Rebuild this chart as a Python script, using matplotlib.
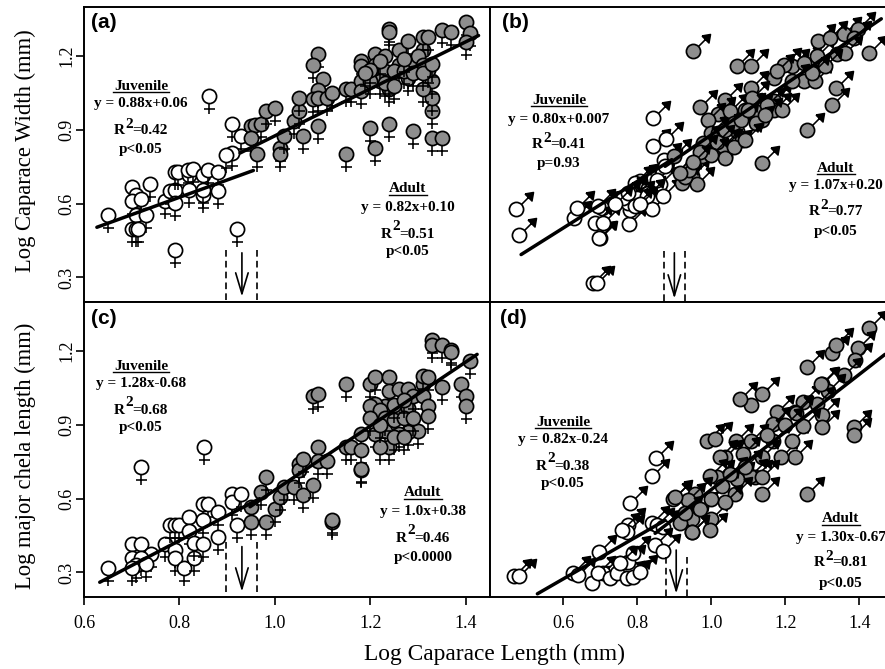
import matplotlib
matplotlib.use("Agg")
import matplotlib.pyplot as plt
from matplotlib.lines import Line2D
from matplotlib.path import Path

plt.rcParams['font.family'] = ['Liberation Serif', 'DejaVu Serif']

W, H = 885, 669
GREY = '#8e8e8e'

# panel a, females, log width
a_juv_x = [.65, .70, .738, .71, .70, .72, .708, .73, .70, .708, .713, .79, .77, .78, .79, .79, .797, .82, .818, .829,
           .85, .86, .881, .881, .85, .79, .82, .85, .862, .91, .93, .91, .897, .92]
a_juv_y = [.555, .668, .678, .637, .612, .617, .555, .555, .495, .495, .497, .413, .612, .65, .657, .728, .728, .716,
           .736, .739, .716, .736, .728, .653, .637, .603, .657, .657, 1.037, .925, .877, .806, .80, .495]
a_ad_x = [.951, .958, .97, .981, 1.00, .951, .962, 1.01, 1.01, 1.02, 1.04, 1.05, 1.05, 1.06, 1.09, 1.08, 1.10, 1.09,
          1.08, 1.09, 1.11, 1.12, 1.09, 1.15, 1.16, 1.18, 1.18, 1.18, 1.18, 1.21, 1.21, 1.23, 1.23, 1.24, 1.24, 1.24,
          1.20, 1.24, 1.21, 1.15, 1.29, 1.33, 1.35, 1.33, 1.33, 1.33, 1.31, 1.26, 1.28, 1.31, 1.31, 1.32, 1.35, 1.37,
          1.40, 1.41, 1.40, 1.28, 1.285, 1.32, 1.30, 1.31, 1.28, 1.26, 1.24, 1.22, 1.20, 1.22, 1.25, 1.27, 1.29, 1.31,
          1.23, 1.25, 1.27, 1.20, 1.19, 1.33]
a_ad_y = [.915, .922, .926, .976, .99, .868, .804, .827, .804, .877, .935, .976, 1.028, .877, 1.207, 1.166, 1.108,
          1.064, 1.024, 1.028, 1.03, 1.05, .915, 1.067, 1.067, 1.18, 1.16, 1.10, 1.057, 1.207, 1.166, 1.20, 1.14,
          1.31, 1.30, 1.067, .908, .926, .827, .804, .897, .868, .868, .976, 1.028, 1.098, 1.067, 1.227, 1.26, 1.227,
          1.28, 1.28, 1.306, 1.298, 1.338, 1.295, 1.257, 1.14, 1.17, 1.145, 1.20, 1.166, 1.11, 1.166, 1.10, 1.10, 1.10,
          1.18, 1.14, 1.14, 1.13, 1.13, 1.09, 1.08, 1.19, 1.145, 1.13, 1.17]

# panel b, males, log width
b_juv_x = [.471, .481, .681, .69, .70, .697, .629, .638, .704, .686, .708, .778, .839, .78, .776, .80, .807, .794,
           .83, .861, .852, .843, .841, .877, .871, .875, .695, .76, .78, .80, .868, .825, .794, .776, .808, .74]
b_juv_y = [.58, .474, .277, .277, .46, .462, .542, .583, .583, .522, .522, .519, .579, .576, .603, .59, .691, .684,
           .644, .678, .698, .949, .834, .864, .779, .752, .59, .625, .645, .625, .63, .63, .589, .644, .60, .60]
b_ad_x = [.951, 1.069, 1.106, 1.427, 1.336, 1.327, 1.258, 1.136, .969, 1.037, 1.106, 1.019, .992, 1.0, 1.068, 1.037,
          1.037, 1.136, 1.168, 1.168, 1.19, 1.168, 1.217, 1.195, 1.249, 1.28, 1.249, 1.289, 1.285, 1.339, 1.357, 1.395,
          1.321, 1.118, 1.082, .992, .947, .947, .96, .92, .93, .94, .915, .975, 1.019, 1.05, 1.09, 1.109,
          1.384, 1.361, 1.307, 1.177, 1.217, 1.271, 1.032, 1.037, .90, .978, 1.037, 1.06, 1.08, 1.10, 1.15, 1.015,
          1.00, .97, .95, 1.06, 1.12, 1.145, 1.09]
b_ad_y = [1.22, 1.162, 1.162, 1.213, 1.071, 1.0, .90, .766, .994, 1.023, 1.071, .963, .942, .888, .895, .834, .793,
          .942, 1.019, .979, .979, 1.111, 1.162, 1.166, 1.098, 1.098, 1.173, 1.26, 1.2, 1.209, 1.29, 1.312, 1.274,
          .976, .861, .834, .752, .712, .678, .684, .71, .738, .724, .793, .888, .976, .98, 1.03,
          1.274, 1.213, 1.159, 1.139, 1.098, 1.132, .834, .786, .793, .847, .90, .93, .94, .98, 1.0, .85,
          .80, .81, .77, .83, .93, .96, .86]

# panel c, females, log chela
c_juv_x = [.65, .72, .851, .70, .72, .74, .70, .72, .71, .73, .70, .77, .78, .79, .80, .79, .79, .81, .83, .82, .82,
           .83, .85, .85, .86, .88, .88, .85, .91, .91, .93, .92]
c_juv_y = [.317, .728, .809, .414, .414, .375, .358, .358, .33, .335, .317, .414, .492, .492, .492, .391, .358, .317,
           .358, .526, .47, .418, .414, .58, .58, .546, .445, .513, .62, .587, .62, .492]
c_ad_x = [.951, .951, .97, .981, .981, 1.0, 1.01, 1.02, 1.04, 1.06, 1.05, 1.05, 1.06, 1.08, 1.09, 1.09, 1.11, 1.08,
          1.09, 1.12, 1.12, 1.15, 1.15, 1.16, 1.18, 1.18, 1.18, 1.18, 1.20, 1.21, 1.24, 1.24, 1.26, 1.28, 1.23, 1.21,
          1.20, 1.26, 1.28, 1.29, 1.31, 1.31, 1.32, 1.31, 1.32, 1.32, 1.30, 1.28, 1.26, 1.23, 1.24, 1.21, 1.22, 1.35,
          1.39, 1.40, 1.40, 1.41, 1.33, 1.33, 1.35, 1.37, 1.37, 1.22, 1.23, 1.25, 1.27, 1.29, 1.25, 1.27, 1.20, 1.22,
          1.25, 1.27]
c_ad_y = [.567, .506, .627, .688, .506, .556, .607, .647, .647, .614, .742, .715, .762, .657, .809, .755, .755, 1.018,
          1.025, .506, .512, 1.068, .809, .809, .863, .798, .715, .722, 1.065, 1.095, 1.095, 1.038, 1.045, 1.045, .978,
          .984, .978, .968, .968, 1.018, 1.065, 1.10, 1.095, 1.018, .978, .937, .876, .87, .863, .876, .809, .863,
          .809, 1.054, 1.068, 1.018, .978, 1.16, 1.247, 1.227, 1.227, 1.203, 1.198, .96, .93, .92, .93, .93, .98, 1.0,
          .93, .90, .85, .85]

# panel d, males, log chela
d_juv_x = [.468, .481, .85, .839, .78, .697, .627, .64, .677, .708, .695, .726, .744, .771, .789, .807, .776, .789,
           .753, .776, .771, .758, .839, .854, .87, .848, .87]
d_juv_y = [.284, .284, .766, .692, .582, .384, .296, .289, .258, .296, .296, .276, .296, .276, .283, .303, .343, .377,
           .337, .492, .465, .472, .499, .492, .485, .411, .388]
d_ad_x = [1.258, 1.325, 1.336, 1.427, 1.397, 1.388, 1.357, 1.298, 1.316, 1.247, 1.176, 1.226, 1.285, 1.298, 1.298,
          1.167, 1.106, 1.077, 1.136, .987, 1.01, 1.106, 1.066, 1.386, 1.386, 1.257, 1.136, 1.226, 1.187, 1.217, 1.167,
          1.136, 1.037, 1.023, 1.016, .996, 1.118, 1.104, 1.068, 1.136, 1.064, .956, .938, .897, .902, .947, .999,
          .996, .947, .915, 1.086, 1.228, 1.248, 1.296, 1.037, .947, .93, .97, 1.0, 1.03, 1.05, 1.09, 1.15, 1.2]
d_ad_y = [1.135, 1.193, 1.227, 1.294, 1.213, 1.166, 1.105, 1.065, 1.038, .993, .954, .951, .984, .94, .89, .903, .981,
          1.004, 1.025, .833, .842, .833, .836, .893, .86, .62, .62, .771, .771, .833, .833, .771, .771, .771, .69, .694,
          .69, .694, .68, .69, .62, .62, .593, .60, .606, .519, .519, .472, .465, .499, .782, .95, .896, 1.065, .586,
          .465, .54, .56, .60, .65, .70, .73, .86, .90]

# regression lines as end points, juvenile then adult
a_lines = [([.627, .955], [.504, .735]), ([.927, 1.427], [.806, 1.284])]
b_lines = [([.486, .893], [.393, .779]), ([.875, 1.459], [.752, 1.352])]
c_lines = [([.633, .968], [.26, .60]), ([.948, 1.424], [.567, 1.187])]
d_lines = [([.53, .875], [.213, .512]), ([.848, 1.469], [.459, 1.187])]

juvenile_text = [['y = 0.88x+0.06', '=0.42', 'p<0.05'], ['y = 0.80x+0.007', '=0.41', 'p=0.93'],
                 ['y = 1.28x-0.68', '=0.68', 'p<0.05'], ['y = 0.82x-0.24', '=0.38', 'p<0.05']]
adult_text = [['y = 0.82x+0.10', '=0.51', 'p<0.05'], ['y = 1.07x+0.20', '=0.77', 'p<0.05'],
              ['y = 1.0x+0.38', '=0.46', 'p<0.0000'], ['y = 1.30x-0.67', '=0.81', 'p<0.05']]

M, L = Path.MOVETO, Path.LINETO
venus = Path([(0, -7), (0, -18), (-5.5, -12.5), (5.5, -12.5)], [M, L, M, L])
mars = Path([(5, 5), (12, 12), (8.5, 15.5), (17, 17), (15.5, 8.5), (8.5, 15.5)], [M, L, M, L, L, L])


def draw_points(ax, xs, ys, face, stem):
    ms = 2 * abs(stem.vertices).max() * 0.72
    for x, y in zip(xs, ys):
        ax.plot([x], [y], marker=stem, ms=ms, mfc='k', mec='k', mew=1.15, ls='none')
        ax.plot([x], [y], marker='o', ms=10.2, mfc=face, mec='k', mew=1.25, ls='none')


def px_ax(fig, left, top, right, bottom):
    return fig.add_axes([left / W, 1 - bottom / H, (right - left) / W, (bottom - top) / H])


def stat_block(fig, x, ys, title, lines):
    kw = dict(va='center', fontsize=11, fontweight='bold')
    t_y, eq_y, r_y, p_y = ys
    fig.text(x / W, 1 - t_y / H, title, ha='center', **kw)
    half = 28 if title == 'Juvenile' else 19
    fig.add_artist(Line2D([(x - half) / W, (x + half) / W], [1 - (t_y + 6) / H] * 2, color='k', lw=1.0))
    fig.text(x / W, 1 - eq_y / H, lines[0], ha='center', **kw)
    # R and the big superscript are set by hand
    left = x - 27
    fig.text(left / W, 1 - r_y / H, 'R', ha='left', **kw)
    fig.text((left + 11) / W, 1 - (r_y - 7) / H, '2', ha='left', **kw)
    fig.text((left + 18.5) / W, 1 - r_y / H, lines[1], ha='left', **kw)
    fig.text(x / W, 1 - p_y / H, lines[2], ha='center', **kw)


def arrow_mark(ax, x0, x1, xm, top, tip, arrow_top):
    ax.plot([x0, x0], [top, 0.2], color='k', lw=1.2, ls=(0, (4, 2.5)))
    ax.plot([x1, x1], [top, 0.2], color='k', lw=1.2, ls=(0, (4, 2.5)))
    ax.annotate('', xy=(xm, tip), xytext=(xm, arrow_top),
                arrowprops=dict(arrowstyle='->,head_length=1.5,head_width=0.45', color='k', lw=1.2,
                                shrinkA=0, shrinkB=0))


fig = plt.figure(figsize=(W / 100, H / 100), dpi=100)

ax_a = px_ax(fig, 84, 7, 490, 302)
ax_b = px_ax(fig, 490, 7, 885, 302)
ax_c = px_ax(fig, 84, 302, 490, 597)
ax_d = px_ax(fig, 490, 302, 885, 597)

panels = [
    (ax_a, a_juv_x, a_juv_y, a_ad_x, a_ad_y, venus, a_lines),
    (ax_b, b_juv_x, b_juv_y, b_ad_x, b_ad_y, mars, b_lines),
    (ax_c, c_juv_x, c_juv_y, c_ad_x, c_ad_y, venus, c_lines),
    (ax_d, d_juv_x, d_juv_y, d_ad_x, d_ad_y, mars, d_lines),
]
for ax, jx, jy, ax_x, ax_y, stem, lines in panels:
    draw_points(ax, jx, jy, 'white', stem)
    draw_points(ax, ax_x, ax_y, GREY, stem)
    for lx, ly in lines:
        ax.plot(lx, ly, color='k', lw=2.5, solid_capstyle='round', zorder=5)
    ax.set_ylim(0.2, 1.4)
    for s in ax.spines.values():
        s.set_linewidth(1.4)
    ax.set_yticks([0.3, 0.6, 0.9, 1.2])
    ax.set_xticks([0.6, 0.8, 1.0, 1.2, 1.4])
    ax.tick_params(length=6, width=1.2, labelsize=13)
    ax.tick_params(axis='x', pad=7)
    ax.tick_params(axis='y', pad=0)

ax_a.set_xlim(0.6, 1.451)
ax_c.set_xlim(0.6, 1.451)
ax_b.set_xlim(0.402, 1.469)
ax_d.set_xlim(0.402, 1.469)

for ax in [ax_a, ax_b]:
    ax.tick_params(axis='x', bottom=False, labelbottom=False)
for ax in [ax_b, ax_d]:
    ax.tick_params(axis='y', left=False, labelleft=False)
    ax.spines['right'].set_visible(False)
for ax in [ax_a, ax_c]:
    for t in ax.get_yticklabels():
        t.set_rotation(90)
        t.set_va('center')

arrow_mark(ax_a, .898, .962, .931, .413, .222, .40)
arrow_mark(ax_b, .871, .929, .90, .406, .214, .40)
arrow_mark(ax_c, .898, .962, .931, .425, .222, .405)
arrow_mark(ax_d, .877, .933, .905, .364, .214, .391)

stat_block(fig, 141, (86, 104, 131, 150), 'Juvenile', juvenile_text[0])
stat_block(fig, 408, (189, 207, 234, 252), 'Adult', adult_text[0])
stat_block(fig, 559, (100, 119, 145, 163), 'Juvenile', juvenile_text[1])
stat_block(fig, 836, (168, 186, 212, 231), 'Adult', adult_text[1])
stat_block(fig, 141, (366, 383, 410, 428), 'Juvenile', juvenile_text[2])
stat_block(fig, 423, (493, 512, 538, 557), 'Adult', adult_text[2])
stat_block(fig, 563, (422, 440, 466, 484), 'Juvenile', juvenile_text[3])
stat_block(fig, 841, (519, 537, 563, 583), 'Adult', adult_text[3])

for lab, x, y in [('(a)', 91, 23), ('(b)', 502, 23), ('(c)', 91, 319), ('(d)', 500, 319)]:
    fig.text(x / W, 1 - y / H, lab, family='Liberation Sans', fontweight='bold', fontsize=15, va='center', ha='left')

fig.text(25 / W, 1 - 151 / H, 'Log Caparace Width (mm)', rotation=90, fontsize=16.3, ha='center', va='center')
fig.text(25 / W, 1 - 456 / H, 'Log major chela length (mm)', rotation=90, fontsize=16.3, ha='center', va='center')
fig.text(495 / W, 1 - 654 / H, 'Log Caparace Length (mm)', fontsize=16.8, ha='center', va='center')

fig.savefig('out.png', dpi=100)
